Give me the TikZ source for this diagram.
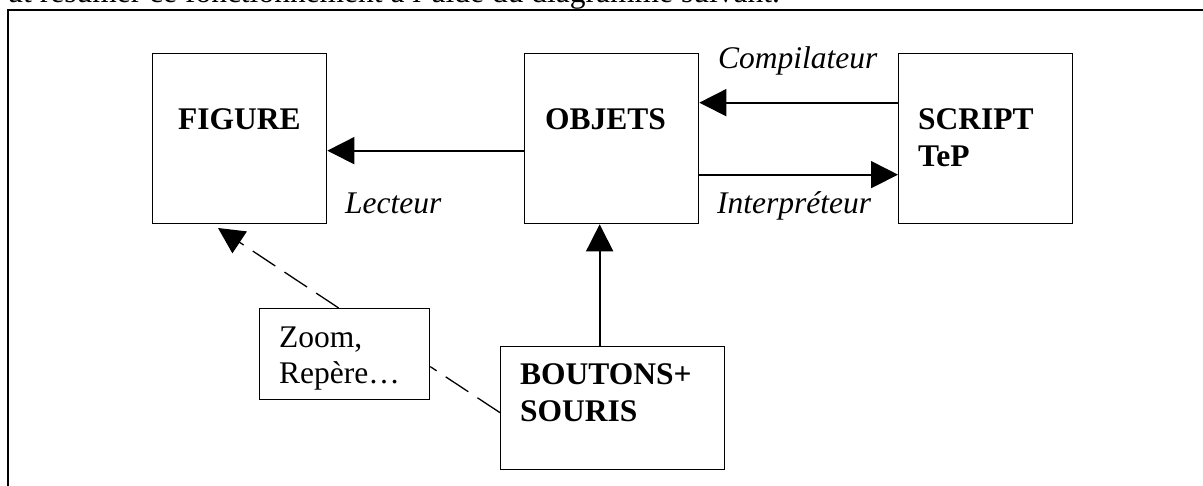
\documentclass[tikz,border=0pt]{standalone}
\usepackage{fontspec}
\setmainfont{Liberation Serif}
\usetikzlibrary{arrows.meta}
\begin{document}
\begin{tikzpicture}[x=1pt,y=-1pt,
  box/.style={draw, line width=1.3pt, inner sep=0pt, anchor=north west},
  boldlbl/.style={inner sep=0pt, anchor=base west, align=left,
    font=\fontsize{31.5}{37}\selectfont\bfseries},
  plainlbl/.style={inner sep=0pt, anchor=base west, align=left,
    font=\fontsize{31.5}{36}\selectfont},
  itlbl/.style={inner sep=0pt, anchor=base west,
    font=\fontsize{31.5}{37}\selectfont\itshape},
  arr/.style={line width=1.7pt, -{Triangle[length=27pt,width=27pt]}},
  dsh/.style={line width=1.3pt, dash pattern=on 27pt off 11pt},
  dsharr/.style={dsh, -{Triangle[length=26pt,width=26pt]}}]
\useasboundingbox (0,0) rectangle (1203,485);
% introductory sentence (clipped at the top)
\node[inner sep=0pt, anchor=base east, font=\fontsize{31.5}{37}\selectfont] (intro) at (780,2.5)
  {ut résumer ce fonctionnement à l'aide du diagramme suivant.};
% outer frame
\draw[line width=2pt] (8,520) -- (8,10) -- (1240,10);
% boxes
\node[box, minimum width=174pt, minimum height=170pt] (fig) at (152,53) {};
\node[box, minimum width=174pt, minimum height=170pt] (obj) at (524,53) {};
\node[box, minimum width=174pt, minimum height=170pt] (scr) at (898,53) {};
\node[box, minimum width=170pt, minimum height=91pt] (zoom) at (259,308) {};
\node[box, minimum width=224pt, minimum height=123pt] (bout) at (500,346) {};
% box texts (base anchor = baseline of the last line)
\node[boldlbl] (figt) at (178,129) {FIGURE};
\node[boldlbl] (objt) at (545,129) {OBJETS};
\node[boldlbl] (scrt) at (918,166) {SCRIPT\\TeP};
\node[plainlbl] (zoomt) at (279,383) {Zoom,\\Repère…};
\node[boldlbl] (boutt) at (520,421) {BOUTONS+\\SOURIS};
% connector labels
\node[itlbl] (comp) at (718,68) {Compilateur};
\node[itlbl] (interp) at (717,213) {Interpréteur};
\node[itlbl] (lect) at (345,213) {Lecteur};
% connectors
\draw[arr] ([yshift=-12pt]obj.west) -- ([yshift=-12pt]obj.west -| fig.east);
\draw[arr] ([yshift=36pt]scr.west) -- ([yshift=36pt]scr.west -| obj.east);
\draw[arr] ([yshift=-36pt]obj.east) -- ([yshift=-36pt]obj.east -| scr.west);
\draw[arr] ([xshift=-13pt]bout.north) -- ([xshift=-13pt]bout.north |- obj.south);
\coordinate (tipA) at (218,228);
\draw[dsharr] ([xshift=-6pt]zoom.north) -- (tipA);
\draw[dsh] ([yshift=-4.5pt]bout.west) -- ([yshift=-12.5pt]zoom.east);
\end{tikzpicture}
\end{document}
